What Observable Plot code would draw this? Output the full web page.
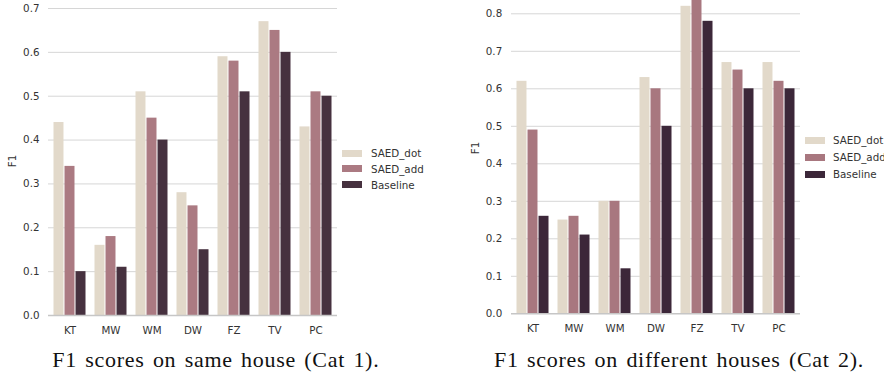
<!DOCTYPE html>
<html>
<head>
<meta charset="utf-8">
<script src="https://cdn.jsdelivr.net/npm/d3@7"></script>
<script src="https://cdn.jsdelivr.net/npm/@observablehq/plot@0.6"></script>
<style>
  html, body { margin: 0; padding: 0; background: #fff; }
  body { width: 884px; height: 376px; overflow: hidden; position: relative; font-family: "DejaVu Sans", sans-serif; }
  .panel { position: absolute; top: 0; }
  .cap { position: absolute; font-family: "Liberation Serif", serif; font-size: 22px; line-height: 22px; color: #111; white-space: nowrap; letter-spacing: 0.7px; word-spacing: 2.2px; }
  .ylab { position: absolute; font-size: 10.3px; line-height: 12px; color: #333; white-space: nowrap; transform: translate(-50%, -50%) rotate(-90deg); }
  .leg { position: absolute; font-size: 10.3px; line-height: 12px; color: #333; white-space: nowrap; }
  .sw { position: absolute; width: 20px; height: 7px; }
</style>
</head>
<body>
<script>
// ---- data ----
const categories = ["KT", "MW", "WM", "DW", "FZ", "TV", "PC"];
const series = ["SAED_dot", "SAED_add", "Baseline"];

const cat1Dot  = [0.44, 0.16, 0.51, 0.28, 0.59, 0.67, 0.43];
const cat1Add  = [0.34, 0.18, 0.45, 0.25, 0.58, 0.65, 0.51];
const cat1Base = [0.10, 0.11, 0.40, 0.15, 0.51, 0.60, 0.50];

const cat2Dot  = [0.62, 0.25, 0.30, 0.63, 0.82, 0.67, 0.67];
const cat2Add  = [0.49, 0.26, 0.30, 0.60, 0.85, 0.65, 0.62];
const cat2Base = [0.26, 0.21, 0.12, 0.50, 0.78, 0.60, 0.60];

const cat1Ticks = [0.0, 0.1, 0.2, 0.3, 0.4, 0.5, 0.6, 0.7];
const cat2Ticks = [0.0, 0.1, 0.2, 0.3, 0.4, 0.5, 0.6, 0.7, 0.8];

const cat1Colors = ["#e2d9ca", "#ab7a82", "#46313f"];
const cat2Colors = ["#e2d9ca", "#a8777f", "#3c2739"];

const yLabel = "F1";
const caption1 = "F1 scores on same house (Cat 1).";
const caption2 = "F1 scores on different houses (Cat 2).";

function rowsFrom(dot, add, base) {
  const cols = [dot, add, base];
  const rows = [];
  categories.forEach((c, j) => series.forEach((s, i) => rows.push({cat: c, series: s, value: cols[i][j]})));
  return rows;
}

function chart(o) {
  const rows = rowsFrom(...o.values);
  const plotW = o.width - o.marginLeft - o.marginRight;
  const bw = 0.8 * plotW / categories.length;
  const sub = bw / series.length;
  const svg = Plot.plot({
    width: o.width,
    height: o.height,
    marginLeft: o.marginLeft,
    marginRight: o.marginRight,
    marginTop: o.marginTop,
    marginBottom: o.marginBottom,
    style: {fontFamily: "DejaVu Sans", fontSize: "10.3px", color: "#333", background: "transparent"},
    x: {type: "band", domain: categories, paddingInner: 0.2, paddingOuter: 0.1, label: null, tickSize: 0, tickPadding: 10.7},
    y: {domain: [0, o.yTop], ticks: o.ticks, tickFormat: d3.format(".1f"), label: null, tickSize: 0, tickPadding: o.yPad},
    color: {domain: series, range: o.colors},
    marks: [
      Plot.ruleY(o.ticks.slice(1), {stroke: "#d6d6d6", strokeWidth: 1}),
      ...series.map((s, i) => Plot.barY(rows.filter(r => r.series === s), {
        x: "cat", y: "value", fill: "series",
        insetLeft: i * sub + 0.5, insetRight: (series.length - 1 - i) * sub + 0.5
      })),
      Plot.ruleY([0], {stroke: "#c6c6c6", strokeWidth: 1.5})
    ]
  });
  const div = document.createElement("div");
  div.className = "panel";
  div.style.left = o.left + "px";
  div.appendChild(svg);
  document.body.appendChild(div);
}

function legend(o) {
  series.forEach((s, i) => {
    const cy = o.y0 + i * o.dy;
    const sw = document.createElement("div");
    sw.className = "sw";
    sw.style.left = o.sx + "px";
    sw.style.top = (cy - 3.5) + "px";
    sw.style.background = o.colors[i];
    document.body.appendChild(sw);
    const t = document.createElement("div");
    t.className = "leg";
    t.textContent = s;
    t.style.left = o.tx + "px";
    t.style.top = (cy - 6) + "px";
    document.body.appendChild(t);
  });
}

function label(text, x, y, cls) {
  const d = document.createElement("div");
  d.className = cls;
  d.textContent = text;
  d.style.left = x + "px";
  d.style.top = y + "px";
  document.body.appendChild(d);
}

chart({left: 0, width: 340, height: 345, marginLeft: 48, marginRight: 3, marginTop: 8, marginBottom: 30,
       yTop: 0.7, ticks: cat1Ticks, yPad: 9, values: [cat1Dot, cat1Add, cat1Base], colors: cat1Colors});
chart({left: 440, width: 363, height: 344, marginLeft: 71, marginRight: 3, marginTop: 0, marginBottom: 30.7,
       yTop: 0.8355, ticks: cat2Ticks, yPad: 9.3, values: [cat2Dot, cat2Add, cat2Base], colors: cat2Colors});

legend({sx: 342, tx: 371, y0: 153, dy: 15.8, colors: cat1Colors});
legend({sx: 805, tx: 833, y0: 140.3, dy: 17, colors: cat2Colors});

label(yLabel, 12, 161, "ylab");
label(yLabel, 475, 148, "ylab");

label(caption1, 52.3, 349, "cap");
label(caption2, 494, 349, "cap");
</script>
</body>
</html>
